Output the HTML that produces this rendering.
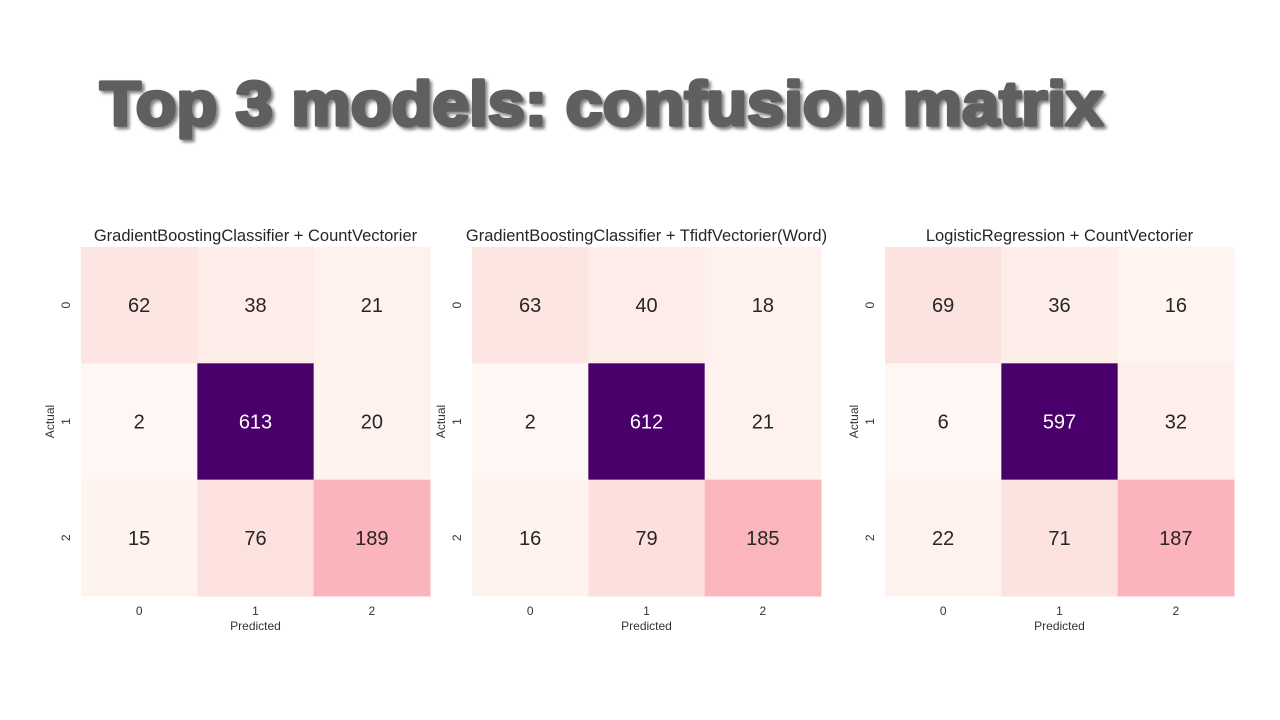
<!DOCTYPE html>
<html><head><meta charset="utf-8"><style>
html,body{margin:0;padding:0;background:#fff;}
svg{display:block;font-family:"Liberation Sans",Arial,sans-serif;}
</style></head><body>
<svg id="s" width="1280" height="720" viewBox="0 0 1280 720">
<defs><filter id="sh" x="-5%" y="-20%" width="110%" height="150%"><feGaussianBlur in="SourceAlpha" stdDeviation="1.5"/><feOffset dx="2.5" dy="2.5" result="b"/><feComponentTransfer><feFuncA type="linear" slope="0.5"/></feComponentTransfer><feMerge><feMergeNode/><feMergeNode in="SourceGraphic"/></feMerge></filter></defs>
<g filter="url(#sh)">
<text x="100" y="125" font-size="62" font-weight="bold" fill="#5f5f5f" stroke="#5f5f5f" stroke-width="3.5" stroke-linejoin="round" textLength="1003" lengthAdjust="spacingAndGlyphs">Top 3 models: confusion matrix</text>
</g>
<g id="charts"></g>
</svg>
<script>
const modelTitles = ["GradientBoostingClassifier + CountVectorier","GradientBoostingClassifier + TfidfVectorier(Word)","LogisticRegression + CountVectorier"];
const classLabels = ["0","1","2"];
const matrixA = [[62,38,21],[2,613,20],[15,76,189]];
const matrixB = [[63,40,18],[2,612,21],[16,79,185]];
const matrixC = [[69,36,16],[6,597,32],[22,71,187]];
const matrices = [matrixA, matrixB, matrixC];

const lefts = [81, 472, 885];
const top0 = 247, size = 349;
const stops = ["#fff7f3","#fde0dd","#fcc5c0","#fa9fb5","#f768a1","#dd3497","#ae017e","#7a0177","#49006a"];
function hex(c){return [1,3,5].map(i=>parseInt(c.substr(i,2),16));}
function cmap(t){t=Math.max(0,Math.min(1,t));const p=t*(stops.length-1);const i=Math.min(stops.length-2,Math.floor(p));const f=p-i;const a=hex(stops[i]),b=hex(stops[i+1]);return "rgb("+a.map((v,k)=>Math.round(v+(b[k]-v)*f)).join(",")+")";}
const NS="http://www.w3.org/2000/svg";
const root=document.getElementById("charts");
function mk(tag,attrs,parent){const e=document.createElementNS(NS,tag);for(const k in attrs)e.setAttribute(k,attrs[k]);parent.appendChild(e);return e;}
matrices.forEach((m,mi)=>{
  const g=mk("g",{},root);
  
  
  const L=lefts[mi], n=classLabels.length, cs=size/n;
  const xs=i=>L+i*cs, ys=j=>top0+j*cs;
  const flat=m.flat(); const mn=Math.min(...flat), mx=Math.max(...flat);
  const t=mk("text",{x:L+size/2,y:top0-6,"font-size":16.5,fill:"#262626","text-anchor":"middle"},g);
  t.textContent=modelTitles[mi];
  
  
  m.forEach((row,r)=>row.forEach((v,c)=>{
    const rc=mk("rect",{x:xs(c),y:ys(r),width:cs+0.5,height:cs+0.5,fill:cmap((v-mn)/(mx-mn))},g);
    
    
    const tx=mk("text",{x:xs(c)+cs/2,y:ys(r)+cs/2+7,"font-size":20,"text-anchor":"middle",fill:(v-mn)/(mx-mn)>0.6?"#fff":"#262626"},g);
    tx.textContent=v;
    
    
  }));
  classLabels.forEach((lab,i)=>{
    const xt=mk("text",{x:xs(i)+cs/2,y:top0+size+19,"font-size":12,"text-anchor":"middle",fill:"#333"},g);
    xt.textContent=lab;
    
    
    const yy=ys(i)+cs/2, xx=L-11;
    const yt=mk("text",{x:xx,y:yy,"font-size":12,"text-anchor":"middle",fill:"#333",transform:"rotate(-90 "+xx+" "+yy+")"},g);
    yt.textContent=lab;
    
    
  });
  const xl=mk("text",{x:L+size/2,y:top0+size+34,"font-size":12,"text-anchor":"middle",fill:"#333"},g);
  xl.textContent="Predicted";
  
  
  const ax=L-27, ay=top0+size/2;
  const yl=mk("text",{x:ax,y:ay,"font-size":12,"text-anchor":"middle",fill:"#333",transform:"rotate(-90 "+ax+" "+ay+")"},g);
  yl.textContent="Actual";
  
  
});
</script>
</body></html>
